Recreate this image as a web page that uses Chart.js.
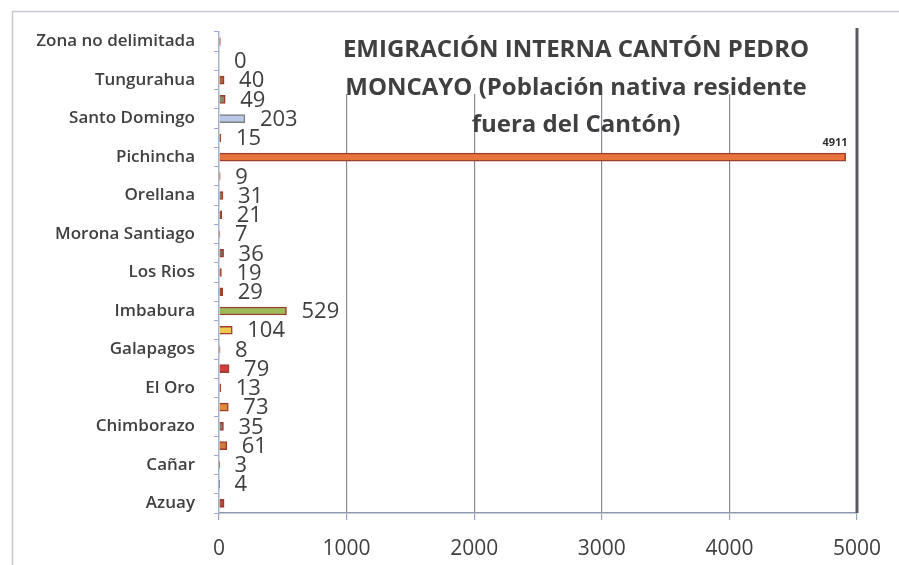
<!DOCTYPE html>
<html>
<head>
<meta charset="utf-8">
<script src="https://cdn.jsdelivr.net/npm/chart.js@4"></script>
<style>
  html, body { margin: 0; padding: 0; background: #ffffff; }
  #wrap { position: relative; width: 899px; height: 565px; }
  canvas { display: block; }
</style>
</head>
<body>
<div id="wrap"><canvas id="c" width="899" height="565"></canvas></div>
<script>
// ---- data (bottom to top, as in the original Excel chart) ----
const categories = [
  "Azuay", "Bolívar", "Cañar", "Carchi", "Chimborazo", "Cotopaxi", "El Oro",
  "Esmeraldas", "Galapagos", "Guayas", "Imbabura", "Loja", "Los Rios", "Manabí",
  "Morona Santiago", "Napo", "Orellana", "Pastaza", "Pichincha", "Santa Elena",
  "Santo Domingo", "Sucumbíos", "Tungurahua", "Zamora Chinchipe", "Zona no delimitada"
];
const values = [
  40, 4, 3, 61, 35, 73, 13,
  79, 8, 104, 529, 29, 19, 36,
  7, 21, 31, 9, 4911, 15,
  203, 49, 40, 0, 10
];
// value labels as printed on the chart (null = not printed)
const valueLabels = [
  null, "4", "3", "61", "35", "73", "13",
  "79", "8", "104", "529", "29", "19", "36",
  "7", "21", "31", "9", "4911", "15",
  "203", "49", "40", "0", null
];
const xTicks = [0, 1000, 2000, 3000, 4000, 5000];
const titleLines = [
  "EMIGRACIÓN INTERNA CANTÓN PEDRO",
  "MONCAYO (Población nativa residente",
  "fuera del Cantón)"
];

// ---- styles ----
const barColors = [
  "#b04a3a", "#a65a3c", "#b3553d", "#d9773c", "#8a7a6a", "#e08a3c", "#a65a4a",
  "#d23c3c", "#a0503a", "#f2c94c", "#9bbb59", "#a0503a", "#a0503a", "#8a6a5a",
  "#a0503a", "#a0503a", "#8a7a6a", "#a0503a", "#e8743b", "#a0503a",
  "#b9c8e6", "#8a8a6a", "#b0603a", "#a0503a", "#b0403a"
];
const barBorders = categories.map((c, i) => i === 20 ? "#7f7f7f" : "#9b3f2c");

const frame = {
  id: "frame",
  beforeDraw(chart) {
    const ctx = chart.ctx;
    ctx.save();
    ctx.fillStyle = "#ffffff";
    ctx.fillRect(0, 0, chart.width, chart.height);
    ctx.strokeStyle = "#c8c8d0";
    ctx.lineWidth = 1.5;
    ctx.beginPath();
    ctx.moveTo(12.5, chart.height);
    ctx.lineTo(12.5, 11.5);
    ctx.lineTo(chart.width, 11.5);
    ctx.stroke();
    ctx.restore();
  }
};

const decor = {
  id: "decor",
  beforeDatasetsDraw(chart) {
    const ctx = chart.ctx;
    const xs = chart.scales.x;
    ctx.save();
    // white box behind the first two title lines (covers gridlines there)
    ctx.fillStyle = "#ffffff";
    ctx.fillRect(xs.getPixelForValue(850), chart.chartArea.top, xs.getPixelForValue(4850) - xs.getPixelForValue(850), 62);
    // dark right line at 5000
    ctx.strokeStyle = "#5a5a60";
    ctx.lineWidth = 3;
    ctx.beginPath();
    const xr = xs.getPixelForValue(5000);
    ctx.moveTo(xr, chart.chartArea.top - 4);
    ctx.lineTo(xr, chart.chartArea.bottom);
    ctx.stroke();
    ctx.restore();
  },
  afterDatasetsDraw(chart) {
    const ctx = chart.ctx;
    const meta = chart.getDatasetMeta(0);
    ctx.save();
    // title
    ctx.fillStyle = "#404040";
    ctx.font = "bold 24px 'Open Sans'";
    ctx.textAlign = "center";
    ctx.textBaseline = "middle";
    const cx = 576;
    const ys = [50, 88, 125];
    titleLines.forEach((t, i) => ctx.fillText(t, cx, ys[i]));
    // value labels
    meta.data.forEach((el, i) => {
      const lab = valueLabels[i];
      if (lab === null) return;
      if (values[i] > 4000) {
        ctx.font = "bold 11px 'Open Sans'";
        ctx.textAlign = "right";
        ctx.textBaseline = "middle";
        ctx.fillStyle = "#303030";
        ctx.fillText(lab, el.x + 2, el.y - 14);
      } else {
        ctx.font = "22px 'Open Sans'";
        ctx.textAlign = "left";
        ctx.textBaseline = "middle";
        ctx.fillStyle = "#404040";
        ctx.fillText(lab, el.x + 15, el.y + 1);
      }
    });
    ctx.restore();
  }
};

new Chart(document.getElementById("c"), {
  type: "bar",
  data: {
    labels: categories,
    datasets: [{
      data: values,
      backgroundColor: barColors,
      borderColor: barBorders,
      borderWidth: 1.5,
      barThickness: 8
    }]
  },
  options: {
    indexAxis: "y",
    responsive: false,
    animation: false,
    events: [],
    layout: { padding: { top: 32, right: 42, left: 0, bottom: 0 } },
    plugins: { legend: { display: false }, tooltip: { enabled: false }, title: { display: false } },
    scales: {
      x: {
        min: 0, max: 5000,
        afterFit(s) { s.height = 52; },
        afterBuildTicks(s) { s.ticks = xTicks.map(v => ({ value: v })); },
        grid: {
          color: (c) => (c.tick && (c.tick.value === 0 || c.tick.value === 5000)) ? "rgba(0,0,0,0)" : "#8a8a96",
          tickColor: "#9aa4b8",
          lineWidth: 1.2,
          tickLength: 7
        },
        border: { color: "#8d9ab0", width: 1.5 },
        ticks: {
          color: "#404040",
          font: { family: "'Open Sans'", size: 21 },
          padding: 16,
          maxRotation: 0,
          callback(v) { return String(v); }
        }
      },
      y: {
        reverse: true,
        afterFit(s) { s.width = 219; },
        grid: {
          offset: true,
          drawOnChartArea: false,
          drawTicks: true,
          tickLength: 5,
          tickColor: "#9aa8c8"
        },
        border: { color: "#a8b4cc", width: 1.5 },
        ticks: {
          autoSkip: false,
          color: "#404040",
          font: { family: "'Open Sans'", size: 17, weight: "600" },
          padding: 19,
          callback(v, i) { return i % 2 === 0 ? categories[i] : ""; }
        }
      }
    }
  },
  plugins: [frame, decor]
});
</script>
</body>
</html>
